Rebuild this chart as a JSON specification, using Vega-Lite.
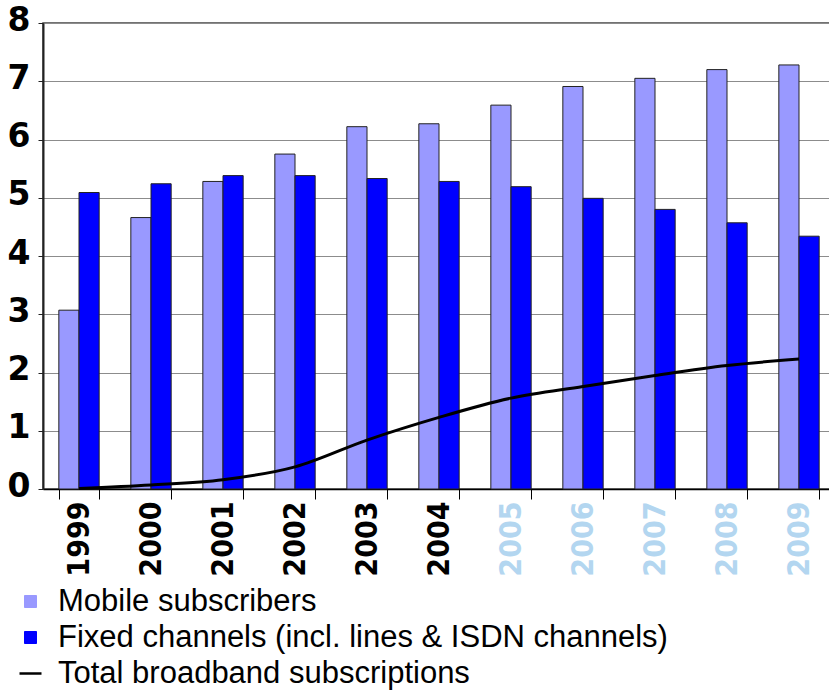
{
  "$schema": "https://vega.github.io/schema/vega-lite/v6.json",
  "width": 792,
  "height": 466,
  "autosize": {"type": "none"},
  "padding": {"left": 43, "top": 23, "right": 0, "bottom": 202},
  "background": "white",
  "config": {"view": {"stroke": "#444444", "strokeWidth": 1.5}},
  "data": {
    "values": [
      {"year": "1999", "series": "Mobile subscribers", "value": 3.07},
      {"year": "2000", "series": "Mobile subscribers", "value": 4.66},
      {"year": "2001", "series": "Mobile subscribers", "value": 5.28},
      {"year": "2002", "series": "Mobile subscribers", "value": 5.75},
      {"year": "2003", "series": "Mobile subscribers", "value": 6.22},
      {"year": "2004", "series": "Mobile subscribers", "value": 6.27},
      {"year": "2005", "series": "Mobile subscribers", "value": 6.59},
      {"year": "2006", "series": "Mobile subscribers", "value": 6.91},
      {"year": "2007", "series": "Mobile subscribers", "value": 7.05},
      {"year": "2008", "series": "Mobile subscribers", "value": 7.2},
      {"year": "2009", "series": "Mobile subscribers", "value": 7.28},
      {"year": "1999", "series": "Fixed channels (incl. lines & ISDN channels)", "value": 5.09},
      {"year": "2000", "series": "Fixed channels (incl. lines & ISDN channels)", "value": 5.24},
      {"year": "2001", "series": "Fixed channels (incl. lines & ISDN channels)", "value": 5.38},
      {"year": "2002", "series": "Fixed channels (incl. lines & ISDN channels)", "value": 5.38},
      {"year": "2003", "series": "Fixed channels (incl. lines & ISDN channels)", "value": 5.33},
      {"year": "2004", "series": "Fixed channels (incl. lines & ISDN channels)", "value": 5.28},
      {"year": "2005", "series": "Fixed channels (incl. lines & ISDN channels)", "value": 5.19},
      {"year": "2006", "series": "Fixed channels (incl. lines & ISDN channels)", "value": 4.99},
      {"year": "2007", "series": "Fixed channels (incl. lines & ISDN channels)", "value": 4.8},
      {"year": "2008", "series": "Fixed channels (incl. lines & ISDN channels)", "value": 4.57},
      {"year": "2009", "series": "Fixed channels (incl. lines & ISDN channels)", "value": 4.34},
      {"year": "1999", "series": "Total broadband subscriptions", "value": 0.01},
      {"year": "2000", "series": "Total broadband subscriptions", "value": 0.07},
      {"year": "2001", "series": "Total broadband subscriptions", "value": 0.16},
      {"year": "2002", "series": "Total broadband subscriptions", "value": 0.38},
      {"year": "2003", "series": "Total broadband subscriptions", "value": 0.84},
      {"year": "2004", "series": "Total broadband subscriptions", "value": 1.23},
      {"year": "2005", "series": "Total broadband subscriptions", "value": 1.56},
      {"year": "2006", "series": "Total broadband subscriptions", "value": 1.76},
      {"year": "2007", "series": "Total broadband subscriptions", "value": 1.95},
      {"year": "2008", "series": "Total broadband subscriptions", "value": 2.12},
      {"year": "2009", "series": "Total broadband subscriptions", "value": 2.23}
    ]
  },
  "encoding": {
    "x": {
      "field": "year",
      "type": "nominal",
      "scale": {"paddingInner": 0.44, "paddingOuter": 0.22},
      "axis": {
        "title": null,
        "tickBand": "extent",
        "tickSize": 10,
        "tickColor": "black",
        "domainColor": "black",
        "domainWidth": 1.5,
        "labelAngle": -90,
        "labelAlign": "right",
        "labelBaseline": "middle",
        "labelPadding": 2,
        "labelLimit": 0,
        "labelFont": "DejaVu Sans Condensed",
        "labelFontWeight": "bold",
        "labelFontSize": 30,
        "labelColor": {"condition": {"test": "toNumber(datum.value) >= 2005", "value": "#b3d6f0"}, "value": "black"}
      }
    },
    "y": {
      "field": "value",
      "type": "quantitative",
      "scale": {"domain": [0, 8], "nice": false},
      "axis": {
        "title": null,
        "values": [0, 1, 2, 3, 4, 5, 6, 7, 8],
        "gridColor": "#8c8c8c",
        "gridWidth": 1,
        "domainColor": "#222222",
        "domainWidth": 2,
        "tickColor": "#222222",
        "tickSize": 5,
        "labelPadding": 8,
        "labelOffset": -3,
        "labelFont": "DejaVu Sans",
        "labelFontWeight": "bold",
        "labelFontSize": 33,
        "labelColor": "black"
      }
    },
    "color": {
      "field": "series",
      "type": "nominal",
      "scale": {
        "domain": ["Mobile subscribers", "Fixed channels (incl. lines & ISDN channels)", "Total broadband subscriptions"],
        "range": ["#9999ff", "#0000ff", "#000000"]
      },
      "legend": {
        "orient": "none",
        "legendX": -28,
        "legendY": 563,
        "direction": "vertical",
        "title": null,
        "labelFont": "Liberation Sans",
        "labelFontSize": 31,
        "labelColor": "black",
        "labelLimit": 0,
        "labelOffset": 12,
        "rowPadding": 4,
        "symbolSize": 484,
        "symbolStrokeColor": "#333333",
        "symbolStrokeWidth": 1,
        "encode": {
          "symbols": {
            "update": {
              "shape": {"signal": "datum.value === 'Total broadband subscriptions' ? 'stroke' : 'square'"},
              "size": {"signal": "datum.value === 'Total broadband subscriptions' ? 484 : 144"},
              "fill": {"signal": "datum.value === 'Total broadband subscriptions' ? 'transparent' : scale('color', datum.value)"},
              "stroke": {"signal": "datum.value === 'Total broadband subscriptions' ? 'black' : '#333333'"},
              "strokeWidth": {"signal": "datum.value === 'Total broadband subscriptions' ? 2.5 : 1"},
              "opacity": {"value": 1}
            }
          }
        }
      }
    }
  },
  "layer": [
    {
      "transform": [{"filter": "datum.series !== 'Total broadband subscriptions'"}],
      "mark": {"type": "bar", "stroke": "#222222", "strokeWidth": 1},
      "encoding": {
        "xOffset": {"field": "series", "type": "nominal", "sort": ["Mobile subscribers", "Fixed channels (incl. lines & ISDN channels)"], "scale": {"paddingInner": 0, "paddingOuter": 0}}
      }
    },
    {
      "transform": [{"filter": "datum.series === 'Total broadband subscriptions'"}],
      "mark": {"type": "line", "interpolate": "monotone", "strokeWidth": 3},
      "encoding": {}
    }
  ]
}
